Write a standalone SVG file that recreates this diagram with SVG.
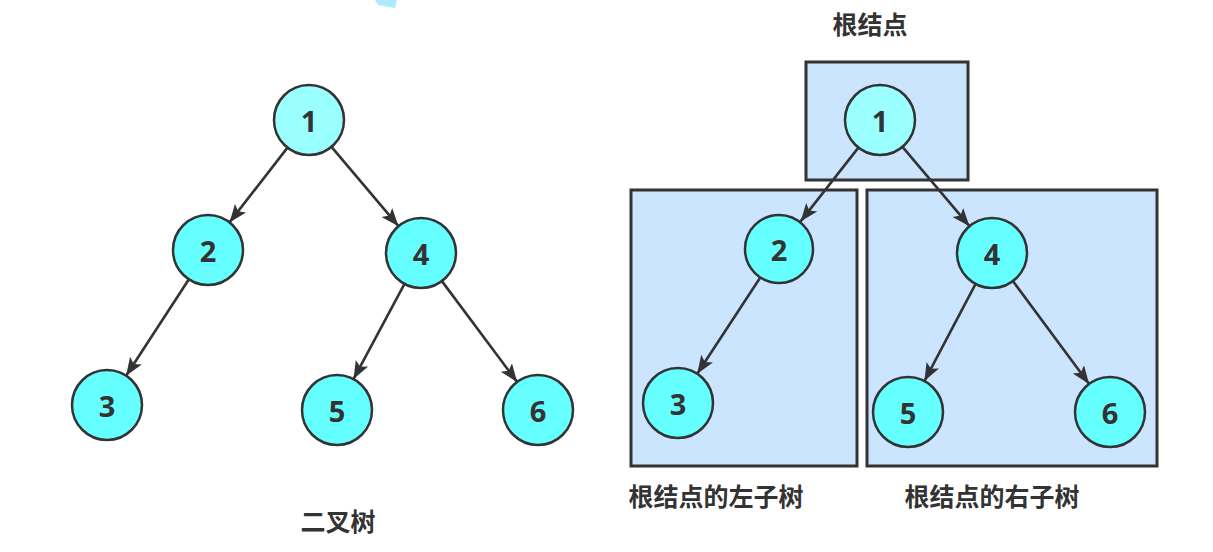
<svg xmlns="http://www.w3.org/2000/svg" width="1213" height="552" viewBox="0 0 1213 552">
<style>
.node circle{fill:#66ffff;stroke:#333;stroke-width:2.5}
.node.root circle{fill:#99ffff}
.node text{font-family:"Open Sans","Noto Sans",sans-serif;font-weight:bold;font-size:29px;fill:#333;text-anchor:middle;dominant-baseline:central}
.box{fill:#cce5ff;stroke:#333;stroke-width:3}
.label{font-family:"Noto Sans CJK SC",sans-serif;font-weight:bold;font-size:25px;fill:#333;text-anchor:middle}
#connectors line{stroke:#333;stroke-width:2.6;marker-end:url(#arrow)}
</style>
<defs>
<marker id="arrow" markerUnits="userSpaceOnUse" markerWidth="20" markerHeight="18" refX="18" refY="9" orient="auto">
<path d="M0,2 L18,9 L0,16 L4,9 Z" fill="#333"/>
</marker>
</defs>
<rect width="1213" height="552" fill="#fff"/>
<polygon points="375,0 397,0 395,8 378,5" fill="#aeeaff"/>

<g id="box-root"><rect class="box" x="806" y="62" width="162" height="118"/></g>
<g id="box-left"><rect class="box" x="631" y="190" width="226" height="276"/></g>
<g id="box-right"><rect class="box" x="867" y="190" width="290" height="276"/></g>

<g id="connectors">
<line x1="287.5" y1="147.6" x2="229.5" y2="222.4"/>
<line x1="331.5" y1="146.8" x2="398.5" y2="226.2"/>
<line x1="188.9" y1="279.3" x2="126.1" y2="375.7"/>
<line x1="404.5" y1="283.9" x2="353.5" y2="379.1"/>
<line x1="441.9" y1="281.1" x2="517.1" y2="381.9"/>
<line x1="858.4" y1="147.6" x2="800.6" y2="221.4"/>
<line x1="902.5" y1="146.8" x2="969.5" y2="226.2"/>
<line x1="759.8" y1="278.3" x2="697.2" y2="373.7"/>
<line x1="975.6" y1="283.9" x2="924.4" y2="381.1"/>
<line x1="1012.9" y1="281.1" x2="1089.1" y2="383.9"/>
</g>

<g id="L1" class="node root"><circle cx="309" cy="120" r="35"/><text x="309" y="120">1</text></g>
<g id="L2" class="node"><circle cx="208" cy="250" r="35"/><text x="208" y="250">2</text></g>
<g id="L4" class="node"><circle cx="421" cy="253" r="35"/><text x="421" y="253">4</text></g>
<g id="L3" class="node"><circle cx="107" cy="405" r="35"/><text x="107" y="405">3</text></g>
<g id="L5" class="node"><circle cx="337" cy="410" r="35"/><text x="337" y="410">5</text></g>
<g id="L6" class="node"><circle cx="538" cy="410" r="35"/><text x="538" y="410">6</text></g>

<g id="R1" class="node root"><circle cx="880" cy="120" r="35"/><text x="880" y="120">1</text></g>
<g id="R2" class="node"><circle cx="779" cy="249" r="34"/><text x="779" y="249">2</text></g>
<g id="R4" class="node"><circle cx="992" cy="253" r="35"/><text x="992" y="253">4</text></g>
<g id="R3" class="node"><circle cx="678" cy="403" r="35"/><text x="678" y="403">3</text></g>
<g id="R5" class="node"><circle cx="908" cy="412" r="35"/><text x="908" y="412">5</text></g>
<g id="R6" class="node"><circle cx="1110" cy="412" r="35"/><text x="1110" y="412">6</text></g>

<g id="labels">
<text class="label" x="870" y="34">根结点</text>
<text class="label" x="716" y="506">根结点的左子树</text>
<text class="label" x="992" y="506">根结点的右子树</text>
<text class="label" x="338" y="531">二叉树</text>
</g>
</svg>
